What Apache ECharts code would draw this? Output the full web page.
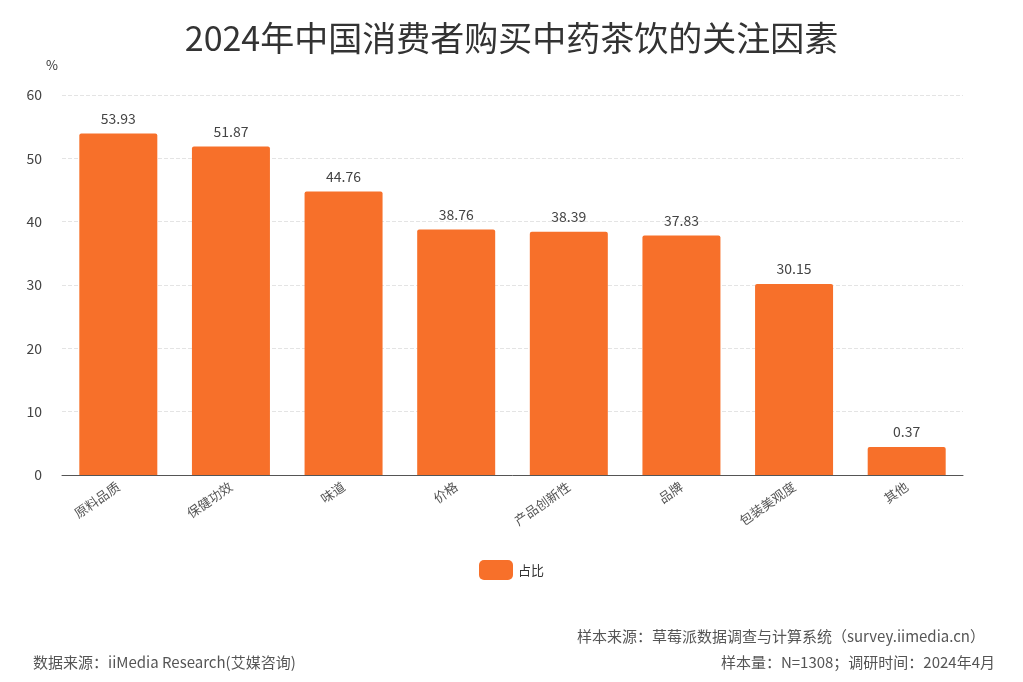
<!DOCTYPE html>
<html><head><meta charset="utf-8">
<script src="https://cdn.jsdelivr.net/npm/echarts@6/dist/echarts.min.js"></script>
<style>html,body{margin:0;padding:0;background:#fff}#c{width:1023px;height:682px}</style>
</head><body><div id="c"></div>
<script>
const categories = ['原料品质','保健功效','味道','价格','产品创新性','品牌','包装美观度','其他'];
const values = [53.93,51.87,44.76,38.76,38.39,37.83,30.15,0.37];
const yTicks = [0,10,20,30,40,50,60];
const chart = echarts.init(document.getElementById('c'));
const ff = '"Noto Sans CJK SC","Noto Sans",sans-serif';
chart.setOption({
  textStyle:{fontFamily:ff},
  title:{text:'2024年中国消费者购买中药茶饮的关注因素',left:'center',top:16,
    textStyle:{fontSize:34,fontWeight:'normal',color:'#333',fontFamily:ff}},
  legend:{bottom:97,left:'center',itemWidth:34,itemHeight:20,itemGap:10,
    textStyle:{fontSize:13,color:'#333'},data:['占比']},
  grid:{left:62,right:60,top:95,bottom:207,containLabel:false},
  xAxis:{type:'category',data:categories,
    axisLine:{lineStyle:{color:'#555'}},axisTick:{show:false},
    axisLabel:{rotate:35,color:'#555',fontSize:13,margin:10,interval:0}},
  yAxis:{type:'value',min:yTicks[0],max:yTicks[yTicks.length-1],interval:10,name:'%',
    nameTextStyle:{color:'#333',fontSize:13,padding:[0,0,8,-20]},
    axisLine:{show:false},axisTick:{show:false},
    axisLabel:{color:'#444',fontSize:14,margin:20},
    splitLine:{lineStyle:{type:'dashed',color:'#e4e4e4'}}},
  series:[{name:'占比',type:'bar',data:values,barWidth:78,barMinHeight:28,
    itemStyle:{color:'#f7702a',borderRadius:[2,2,0,0]},
    label:{show:true,position:'top',color:'#444',fontSize:14,distance:8}}],
  graphic:[
    {type:'text',right:38,top:629,style:{text:'样本来源：草莓派数据调查与计算系统（survey.iimedia.cn）',fill:'#555',font:'15px '+ff}},
    {type:'text',left:33,top:655,style:{text:'数据来源：iiMedia Research(艾媒咨询)',fill:'#555',font:'15px '+ff}},
    {type:'text',right:28,top:655,style:{text:'样本量：N=1308；调研时间：2024年4月',fill:'#555',font:'15px '+ff}}
  ]
});
</script></body></html>
